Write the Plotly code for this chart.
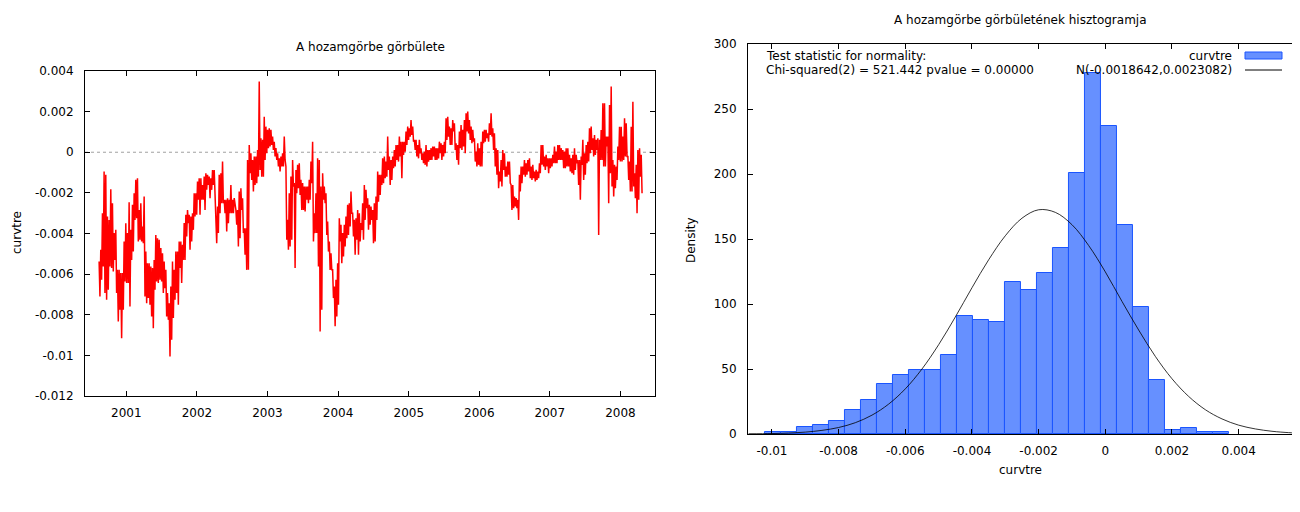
import pandas as pd
import plotly.graph_objects as go

# ---------------- data: curvature time series (hi/lo pairs) ----------------
curvtre_2000_2002 = [
    -0.00538, -0.00710, -0.00480, -0.00628, -0.00300, -0.00562, -0.00095, -0.00693,
    -0.00111, -0.00726, -0.00316, -0.00677, -0.00333, -0.00562, -0.00182, -0.00570,
    -0.00251, -0.00587, -0.00398, -0.00530, -0.00382, -0.00693, -0.00579, -0.00833,
    -0.00579, -0.00775, -0.00595, -0.00915, -0.00595, -0.00775, -0.00439, -0.00636,
    -0.00349, -0.00644, -0.00398, -0.00644, -0.00246, -0.00759, -0.00382, -0.00530,
    -0.00259, -0.00489, -0.00202, -0.00333, -0.00136, -0.00325, -0.00128, -0.00439,
    -0.00284, -0.00431, -0.00251, -0.00439, -0.00366, -0.00448, -0.00218, -0.00710,
    -0.00489, -0.00743, -0.00546, -0.00718, -0.00546, -0.00751, -0.00562, -0.00808,
    -0.00570, -0.00866, -0.00530, -0.00677, -0.00407, -0.00636, -0.00423, -0.00644,
    -0.00431, -0.00628, -0.00472, -0.00636, -0.00497, -0.00693, -0.00538, -0.00669,
    -0.00579, -0.00808, -0.00693, -0.00825, -0.00743, -0.01005, -0.00661, -0.00923,
    -0.00538, -0.00816, -0.00579, -0.00726, -0.00489, -0.00693, -0.00489, -0.00751,
    -0.00439, -0.00570, -0.00439, -0.00644, -0.00456, -0.00530, -0.00349, -0.00530,
    -0.00308, -0.00415, -0.00284, -0.00349, -0.00308, -0.00480, -0.00316, -0.00439,
    -0.00300, -0.00382, -0.00202, -0.00316, -0.00202, -0.00308, -0.00144, -0.00234,
    -0.00128, -0.00308, -0.00128, -0.00234, -0.00161, -0.00234, -0.00120, -0.00284,
    -0.00103, -0.00185, -0.00111, -0.00161, -0.00120, -0.00226, -0.00128, -0.00185,
    -0.00087, -0.00161, -0.00087, -0.00234, -0.00251, -0.00448, -0.00267, -0.00398,
    -0.00111, -0.00300, -0.00103, -0.00251, -0.00046, -0.00251, -0.00234, -0.00300,
    -0.00234, -0.00390, -0.00226, -0.00349, -0.00234, -0.00300, -0.00161, -0.00300,
    -0.00234, -0.00300, -0.00226, -0.00251,
]
curvtre_2002_2004 = [
    -0.00284, -0.00357, -0.00284, -0.00464, -0.00193, -0.00423, -0.00177, -0.00284,
    -0.00226, -0.00398, -0.00374, -0.00505, -0.00374, -0.00579, -0.00038, -0.00579,
    0.00036, -0.00103, -0.00005, -0.00136, -0.00038, -0.00193, -0.00021, -0.00161,
    -0.00021, -0.00152, 0.00011, -0.00120, 0.00348, -0.00087, 0.00069, -0.00120,
    0.00061, -0.00120, 0.00175, -0.00038, 0.00126, -0.00005, 0.00110, 0.00020,
    0.00118, 0.00028, 0.00110, 0.00036, 0.00077, 0.00011, 0.00052, -0.00021,
    0.00020, -0.00038, -0.00005, -0.00070, -0.00030, -0.00095, -0.00021, -0.00070,
    -0.00005, -0.00070, 0.00077, -0.00038, -0.00070, -0.00431, -0.00333, -0.00480,
    -0.00202, -0.00464, -0.00120, -0.00431, -0.00038, -0.00169, -0.00152, -0.00570,
    -0.00087, -0.00202, -0.00062, -0.00177, -0.00054, -0.00210, -0.00136, -0.00284,
    -0.00152, -0.00284, -0.00169, -0.00292, -0.00169, -0.00234, -0.00169, -0.00251,
    -0.00136, -0.00234, -0.00046, -0.00152, 0.00052, -0.00439, -0.00300, -0.00398,
    -0.00202, -0.00398, -0.00030, -0.00562, -0.00038, -0.00882, -0.00169, -0.00775,
    -0.00103, -0.00234, -0.00169, -0.00251, -0.00202, -0.00407, -0.00341, -0.00489,
    -0.00439, -0.00579, -0.00497, -0.00579, -0.00579, -0.00718, -0.00661, -0.00857,
    -0.00628, -0.00808, -0.00546, -0.00751, -0.00325, -0.00439, -0.00357, -0.00546,
    -0.00398, -0.00513, -0.00357, -0.00464, -0.00316, -0.00423, -0.00259, -0.00407,
    -0.00251, -0.00366, -0.00193, -0.00300, -0.00300, -0.00415, -0.00333, -0.00505,
    -0.00325, -0.00431, -0.00284, -0.00505, -0.00300, -0.00439, -0.00349, -0.00382,
    -0.00251, -0.00431, -0.00161, -0.00333, -0.00185, -0.00275, -0.00226, -0.00382,
    -0.00259, -0.00357, -0.00267, -0.00333, -0.00284, -0.00448, -0.00251, -0.00439,
    -0.00218, -0.00333, -0.00095, -0.00243, -0.00111, -0.00210,
]
curvtre_2004_2006 = [
    -0.00111, -0.00161, -0.00030, -0.00152, -0.00021, -0.00128, -0.00046, -0.00120,
    0.00077, -0.00087, -0.00021, -0.00161, -0.00038, -0.00136, -0.00021, -0.00079,
    0.00011, -0.00070, 0.00036, -0.00038, 0.00036, -0.00046, 0.00077, -0.00021,
    0.00052, -0.00128, 0.00052, -0.00013, 0.00052, 0.00003, 0.00102, 0.00036,
    0.00126, 0.00061, 0.00118, 0.00077, 0.00159, 0.00085, 0.00126, 0.00052,
    0.00061, 0.00011, 0.00061, -0.00021, 0.00036, -0.00030, 0.00061, -0.00005,
    0.00020, -0.00038, -0.00005, -0.00054, 0.00003, -0.00062, 0.00036, -0.00070,
    0.00011, -0.00046, 0.00011, -0.00038, 0.00020, -0.00038, 0.00028, -0.00021,
    0.00028, -0.00038, 0.00020, -0.00038, 0.00020, -0.00030, 0.00052, -0.00005,
    0.00044, -0.00038, 0.00036, -0.00021, 0.00052, -0.00005, 0.00167, 0.00061,
    0.00175, 0.00077, 0.00126, 0.00036, 0.00118, 0.00036, 0.00159, 0.00102,
    0.00143, 0.00011, 0.00044, -0.00038, 0.00036, -0.00062, 0.00102, 0.00020,
    0.00134, 0.00011, 0.00110, 0.00028, 0.00159, -0.00005, 0.00192, 0.00102,
    0.00200, 0.00093, 0.00159, 0.00061, 0.00126, 0.00044, 0.00110, 0.00052,
    0.00069, -0.00046, 0.00003, -0.00070, 0.00044, -0.00062, 0.00020, -0.00070,
    0.00052, -0.00070, 0.00102, 0.00044, 0.00110, 0.00052, 0.00110, 0.00069,
    0.00093, 0.00052, 0.00143, 0.00085, 0.00192, 0.00077, 0.00118, 0.00011,
    0.00093, -0.00070, 0.00020, -0.00111, 0.00011, -0.00177, -0.00095, -0.00144,
    -0.00038, -0.00169, 0.00011, -0.00087, -0.00005, -0.00120, -0.00070, -0.00120,
    -0.00046, -0.00111, -0.00046, -0.00152, -0.00161, -0.00284, -0.00161, -0.00275,
    -0.00218, -0.00267,
]
curvtre_2006_2008 = [
    -0.00226, -0.00275, -0.00234, -0.00333, -0.00111, -0.00193, -0.00070, -0.00152,
    -0.00070, -0.00111, -0.00038, -0.00120, -0.00054, -0.00111, -0.00038, -0.00095,
    -0.00030, -0.00128, -0.00070, -0.00136, -0.00062, -0.00128, -0.00095, -0.00144,
    -0.00087, -0.00136, -0.00095, -0.00128, -0.00054, -0.00103, 0.00036, -0.00062,
    0.00036, -0.00070, -0.00021, -0.00087, -0.00013, -0.00070, -0.00030, -0.00103,
    -0.00030, -0.00079, -0.00030, -0.00070, -0.00013, -0.00054, 0.00028, -0.00054,
    0.00003, -0.00054, 0.00036, -0.00038, 0.00036, -0.00038, 0.00020, -0.00038,
    0.00011, -0.00079, 0.00003, -0.00079, 0.00020, -0.00070, 0.00020, -0.00070,
    -0.00013, -0.00095, -0.00030, -0.00103, -0.00013, -0.00111, 0.00020, -0.00087,
    -0.00013, -0.00054, -0.00038, -0.00161, -0.00038, -0.00234, -0.00021, -0.00062,
    0.00061, -0.00136, -0.00005, -0.00111, 0.00036, -0.00054, 0.00052, -0.00046,
    0.00118, -0.00005, 0.00126, 0.00011, 0.00069, -0.00021, 0.00085, -0.00013,
    0.00061, 0.00011, 0.00069, -0.00407, 0.00061, -0.00038, 0.00110, -0.00038,
    0.00241, -0.00070, 0.00241, -0.00070, 0.00077, 0.00028, 0.00077, -0.00251,
    0.00233, -0.00103, 0.00323, -0.00169, -0.00038, -0.00218, -0.00062, -0.00177,
    -0.00070, -0.00136, 0.00028, -0.00038, 0.00126, -0.00046, 0.00126, -0.00046,
    0.00077, -0.00038, 0.00167, -0.00021, 0.00143, -0.00021, -0.00021, -0.00136,
    -0.00046, -0.00193, 0.00126, -0.00193, 0.00249, -0.00169, -0.00103, -0.00226,
    -0.00062, -0.00300, 0.00011, -0.00234, 0.00020, -0.00120, -0.00013, -0.00202,
]
series_start = "2000-08-13"
series_end = "2008-04-22"

year_ticks = ["2001-01-01", "2002-01-01", "2003-01-01", "2004-01-01",
              "2005-01-01", "2006-01-01", "2007-01-01", "2008-01-01"]
year_labels = ["2001", "2002", "2003", "2004", "2005", "2006", "2007", "2008"]
ts_yticks = [0.004, 0.002, 0, -0.002, -0.004, -0.006, -0.008, -0.01, -0.012]
ts_ylabels = ["0.004", "0.002", "0", "-0.002", "-0.004", "-0.006", "-0.008", "-0.01", "-0.012"]

# ---------------- data: histogram ----------------
bin_centers = [-0.00998, -0.00950, -0.00902, -0.00854, -0.00806, -0.00758, -0.00710,
               -0.00662, -0.00614, -0.00566, -0.00518, -0.00470, -0.00422, -0.00374,
               -0.00326, -0.00278, -0.00230, -0.00182, -0.00134, -0.00086, -0.00038,
               0.00010, 0.00058, 0.00106, 0.00154, 0.00202, 0.00250, 0.00298, 0.00346]
bin_width = 0.00048
density = [1.2, 1.2, 5.5, 6.7, 10.3, 18.6, 26.4, 38.1, 45.1, 49.0, 49.0, 60.6, 90.7,
           87.9, 86.1, 117.0, 110.8, 123.5, 143.3, 200.9, 277.6, 237.0, 161.0, 97.4,
           41.2, 3.0, 4.3, 1.2, 1.2]

norm_x = [-0.0107, -0.0100, -0.0095, -0.0090, -0.0085, -0.0080, -0.0075, -0.0070,
          -0.0065, -0.0060, -0.0055, -0.0050, -0.0045, -0.0040, -0.0035, -0.0030,
          -0.0025, -0.0020, -0.0015, -0.0010, -0.0005, 0.0000, 0.0005, 0.0010,
          0.0015, 0.0020, 0.0025, 0.0030, 0.0035, 0.0040, 0.0045, 0.0050, 0.0055, 0.0057]
norm_y = [0.2, 0.35, 0.75, 1.45, 2.8, 5.0, 8.7, 14.5, 23.0, 34.7, 50.0, 68.7, 90.0,
          112.5, 134.0, 152.5, 166.0, 172.5, 170.5, 161.0, 145.0, 124.7, 102.0, 80.0,
          59.7, 42.5, 28.9, 18.7, 11.6, 6.8, 3.9, 2.1, 1.05, 0.8]

hist_xticks = [-0.01, -0.008, -0.006, -0.004, -0.002, 0, 0.002, 0.004]
hist_xlabels = ["-0.01", "-0.008", "-0.006", "-0.004", "-0.002", "0", "0.002", "0.004"]
hist_yticks = [0, 50, 100, 150, 200, 250, 300]

# ---------------- figure ----------------
FONT = "DejaVu Sans"
curvtre = curvtre_2000_2002 + curvtre_2002_2004 + curvtre_2004_2006 + curvtre_2006_2008
dates = pd.date_range(series_start, series_end, periods=len(curvtre))

fig = go.Figure()
fig.add_trace(go.Scatter(x=dates, y=curvtre, mode="lines",
                         line=dict(color="#ff0000", width=1.5),
                         xaxis="x", yaxis="y", showlegend=False))
fig.add_trace(go.Bar(x=bin_centers, y=density, width=bin_width,
                     marker=dict(color="#6690ff", line=dict(color="#1a55ff", width=1)),
                     xaxis="x2", yaxis="y2", showlegend=False))
fig.add_trace(go.Scatter(x=norm_x, y=norm_y, mode="lines",
                         line=dict(color="black", width=0.8, shape="spline"),
                         xaxis="x2", yaxis="y2", showlegend=False))

axis_common = dict(showline=True, mirror="allticks", linecolor="black", linewidth=1,
                   ticks="inside", ticklen=5, tickcolor="black", showgrid=False,
                   zeroline=False, tickfont=dict(family=FONT, size=12, color="black"))

# the page body adds an 8px offset, so the figure is 8px smaller and margins shifted
fig.update_layout(
    width=1292, height=504, autosize=False,
    paper_bgcolor="white", plot_bgcolor="white",
    margin=dict(l=77, r=3, t=36, b=78, pad=0),
    bargap=0,
    font=dict(family=FONT, size=12, color="black"),
    xaxis=dict(domain=[0, 0.4703], anchor="y", type="date",
               range=["2000-06-01", "2008-06-28"],
               tickmode="array", tickvals=year_ticks, ticktext=year_labels,
               ticklabelstandoff=6, **axis_common),
    yaxis=dict(domain=[0.0974, 0.9308], anchor="x", range=[-0.012, 0.004],
               tickmode="array", tickvals=ts_yticks, ticktext=ts_ylabels,
               ticklabelstandoff=8, **axis_common),
    xaxis2=dict(domain=[0.547, 1], anchor="y2", range=[-0.01072, 0.00575],
                tickmode="array", tickvals=hist_xticks, ticktext=hist_xlabels,
                ticklabelstandoff=6, **axis_common),
    yaxis2=dict(domain=[0, 1], anchor="x2", range=[0, 300],
                tickmode="array", tickvals=hist_yticks,
                ticklabelstandoff=8, **axis_common),
)

# zero reference line on time series
fig.add_shape(type="line", xref="x domain", yref="y", x0=0, x1=1, y0=0, y1=0,
              line=dict(color="#a0a0a0", width=1, dash="dot"), layer="below")

def txt(text, x, y, xanchor="center", angle=0):
    fig.add_annotation(text=text, xref="paper", yref="paper", x=x, y=y,
                       xanchor=xanchor, yanchor="middle", showarrow=False,
                       textangle=angle, font=dict(family=FONT, size=12, color="black"))

def px(xp, yp):
    # convert pixel position on the 1300x512 screenshot to paper coordinates
    return (xp - 85) / 1212, (434 - yp) / 390

txt("A hozamgörbe görbülete", *px(370, 47))
txt("A hozamgörbe görbületének hisztogramja", *px(1020, 20))
txt("curvtre", *px(17, 233), angle=-90)
txt("Density", *px(691, 240), angle=-90)
txt("curvtre", *px(1020, 470))
txt("Test statistic for normality:", *px(764, 56), xanchor="left")
txt("Chi-squared(2) = 521.442 pvalue = 0.00000", *px(764, 70), xanchor="left")
txt("curvtre", *px(1234, 56), xanchor="right")
txt("N(-0.0018642,0.0023082)", *px(1234, 70), xanchor="right")

# legend samples
bx0, by0 = px(1245, 52)
bx1, by1 = px(1282, 59)
fig.add_shape(type="rect", xref="paper", yref="paper", x0=bx0, x1=bx1, y0=by1, y1=by0,
              fillcolor="#6690ff", line=dict(color="#1a55ff", width=1))
lx0, ly = px(1245, 70)
lx1, _ = px(1282, 70)
fig.add_shape(type="line", xref="paper", yref="paper", x0=lx0, x1=lx1, y0=ly, y1=ly,
              line=dict(color="black", width=1))

fig.write_html("out.html")
